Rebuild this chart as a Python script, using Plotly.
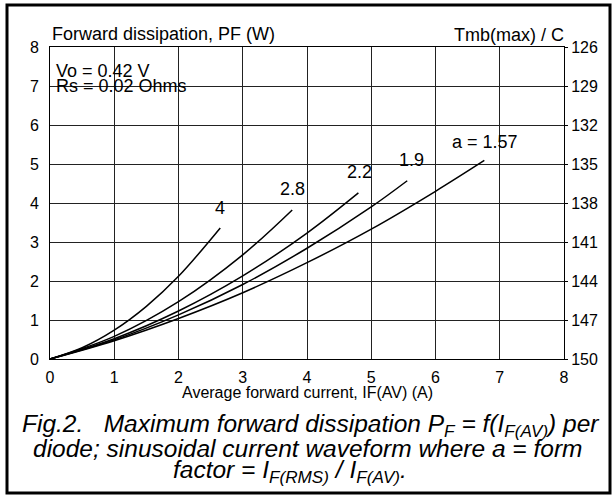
import plotly.graph_objects as go

# Data
form_factors = ["4", "2.8", "2.2", "1.9", "a = 1.57"]
curve_4_x = [0, 0.5, 1.0, 1.5, 2.0, 2.65]
curve_4_y = [0, 0.29, 0.74, 1.35, 2.12, 3.36]
curve_28_x = [0, 1.0, 2.0, 3.0, 3.77]
curve_28_y = [0, 0.58, 1.47, 2.67, 3.82]
curve_22_x = [0, 1.0, 2.0, 3.0, 4.0, 4.8]
curve_22_y = [0, 0.52, 1.23, 2.13, 3.23, 4.26]
curve_19_x = [0, 1.0, 2.0, 3.0, 4.0, 5.0, 5.56]
curve_19_y = [0, 0.49, 1.13, 1.91, 2.84, 3.90, 4.57]
curve_157_x = [0, 1.0, 2.0, 3.0, 4.0, 5.0, 6.0, 6.76]
curve_157_y = [0, 0.47, 1.04, 1.70, 2.47, 3.33, 4.30, 5.09]
label_x = [2.65, 3.78, 4.82, 5.63, 6.77]
label_y = [3.87, 4.36, 4.80, 5.10, 5.56]

x_ticks = [0, 1, 2, 3, 4, 5, 6, 7, 8]
y_ticks = [0, 1, 2, 3, 4, 5, 6, 7, 8]
tmb_ticks = [126, 129, 132, 135, 138, 141, 144, 147, 150]

FONT = "Liberation Sans, Arial, sans-serif"
W, H = 614, 496
L, R, T, B = 50, 50, 47, 137
PW = W - L - R
PH = H - T - B

fig = go.Figure()
curves = [(curve_4_x, curve_4_y), (curve_28_x, curve_28_y), (curve_22_x, curve_22_y),
          (curve_19_x, curve_19_y), (curve_157_x, curve_157_y)]
for (cx, cy) in curves:
    fig.add_trace(go.Scatter(x=cx, y=cy, mode="lines", line=dict(color="black", width=1.5, shape="spline"),
                             showlegend=False, hoverinfo="skip"))
# invisible trace to anchor right axis
fig.add_trace(go.Scatter(x=[0], y=[150], yaxis="y2", mode="markers", marker=dict(opacity=0),
                         showlegend=False, hoverinfo="skip"))

for t, lx, ly in zip(form_factors, label_x, label_y):
    fig.add_annotation(x=lx, y=ly, text=t, showarrow=False, borderpad=0,
                       font=dict(family=FONT, size=18, color="black"))

def px(p):
    return (p - L) / PW

def py(p):
    return (H - B - p) / PH

def txt(x, y, text, anchor, size):
    fig.add_annotation(xref="paper", yref="paper", x=px(x), y=py(y), xanchor=anchor, yanchor="middle",
                       text=text, showarrow=False, borderpad=0,
                       font=dict(family=FONT, size=size, color="black"))

txt(51, 34, "Forward dissipation, PF (W)", "left", 18)
txt(565, 35, "Tmb(max) / C", "right", 18)
txt(55, 71, "Vo = 0.42 V", "left", 18)
txt(55, 86, "Rs = 0.02 Ohms", "left", 18)
txt(307, 392, "Average forward current, IF(AV) (A)", "center", 16)

cap_lines = [
    "<i>Fig.2.&nbsp;&nbsp;&nbsp;Maximum forward dissipation P<sub>F</sub> = f(I<sub>F(AV)</sub>) per</i>",
    "<i>diode; sinusoidal current waveform where a = form</i>",
    "<i>factor = I<sub>F(RMS)</sub> / I<sub>F(AV)</sub>.</i>",
]
cap_x = [21, 32, 172]
cap_y = [426, 449, 471]
for t, cx, cy in zip(cap_lines, cap_x, cap_y):
    txt(cx, cy, t, "left", 24.5)

# outer frame
fig.add_shape(type="rect", xref="paper", yref="paper",
              x0=px(7), x1=px(610), y0=py(493), y1=py(5), line=dict(color="black", width=3))

fig.update_layout(
    width=W, height=H, margin=dict(l=L, r=R, t=T, b=B),
    paper_bgcolor="white", plot_bgcolor="white",
    font=dict(family=FONT, size=16, color="black"),
    xaxis=dict(range=[0, 8], tickvals=x_ticks, showgrid=True, gridcolor="#222", gridwidth=1,
               showline=True, linecolor="black", linewidth=1, mirror=True, zeroline=False,
               ticks="", tickfont=dict(size=16), ticklabelstandoff=4),
    yaxis=dict(range=[0, 8], tickvals=y_ticks, showgrid=True, gridcolor="#222", gridwidth=1,
               showline=True, linecolor="black", linewidth=1, mirror=True, zeroline=False,
               ticks="", tickfont=dict(size=16), ticklabelstandoff=7),
    yaxis2=dict(range=[150, 126], tickvals=tmb_ticks, overlaying="y", side="right", showgrid=False,
                zeroline=False, showline=False, ticks="outside", ticklen=3, tickcolor="black",
                tickfont=dict(size=16)),
)

fig.write_html("out.html")
